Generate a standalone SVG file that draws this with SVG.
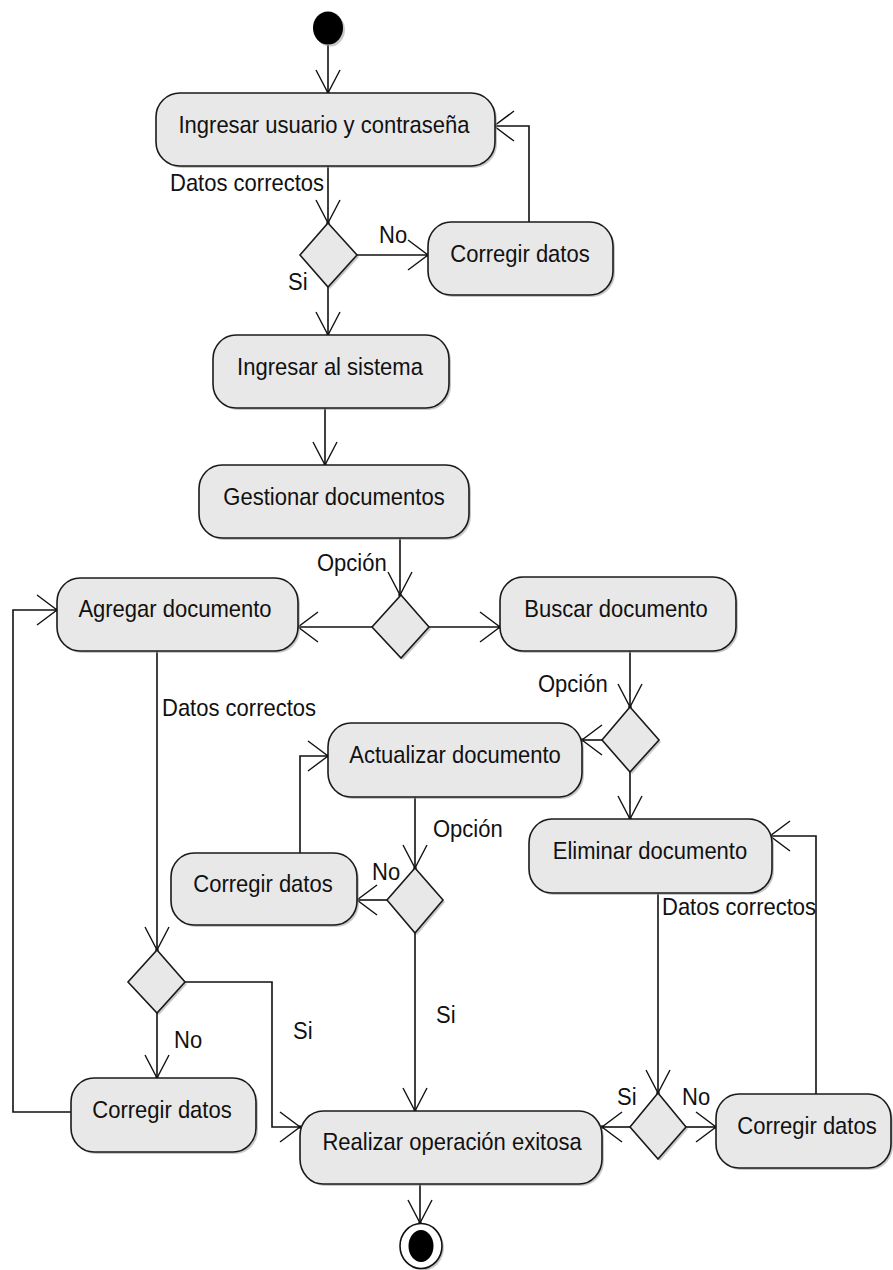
<svg xmlns="http://www.w3.org/2000/svg" width="893" height="1270" viewBox="0 0 893 1270">
<style>
.nd{fill:#e8e8e8;stroke:#1a1a1a;stroke-width:1.6}
.sh{fill:#9a9a9a;opacity:.55;stroke:none}
.t{font-family:"Liberation Sans",Arial,sans-serif;font-size:24px;fill:#111;text-anchor:middle}
.l{font-family:"Liberation Sans",Arial,sans-serif;font-size:24px;fill:#111;text-anchor:start}
.c{fill:none;stroke:#111;stroke-width:1.6}
.cv{marker-end:url(#arrV)}
.ch{marker-end:url(#arrH)}
</style>
<defs>
<marker id="arrV" markerUnits="userSpaceOnUse" viewBox="-26 -14 28 28" refX="0" refY="0" markerWidth="28" markerHeight="28" orient="auto" overflow="visible">
<path d="M-23,-12 L0,0 L-23,12" fill="none" stroke="#111" stroke-width="1.4"/>
<circle cx="0" cy="0" r="1.8" fill="#111"/>
</marker>
<marker id="arrH" markerUnits="userSpaceOnUse" viewBox="-22 -17 24 34" refX="0" refY="0" markerWidth="24" markerHeight="34" orient="auto" overflow="visible">
<path d="M-20,-15 L0,0 L-20,15" fill="none" stroke="#111" stroke-width="1.4"/>
<circle cx="0" cy="0" r="1.8" fill="#111"/>
</marker>
</defs>
<rect width="893" height="1270" fill="#fff"/>

<g id="connectors">
<path class="c cv" d="M328,45 L328,93"/>
<path class="c cv" d="M328,166 L328,223"/>
<path class="c ch" d="M357,255 L428,255"/>
<path class="c ch" d="M529,222 L529,126 L494,126"/>
<path class="c cv" d="M328,287 L328,335"/>
<path class="c cv" d="M325,408 L325,465"/>
<path class="c cv" d="M400,538 L400,595"/>
<path class="c ch" d="M372,627 L298,627"/>
<path class="c ch" d="M429,627 L500,627"/>
<path class="c cv" d="M157,651 L157,950"/>
<path class="c cv" d="M630,651 L630,707"/>
<path class="c ch" d="M602,740 L582,740"/>
<path class="c cv" d="M630,772 L630,819"/>
<path class="c cv" d="M415,797 L415,868"/>
<path class="c ch" d="M387,900 L357,900"/>
<path class="c ch" d="M300,853 L300,756 L328,756"/>
<path class="c cv" d="M415,933 L415,1111"/>
<path class="c ch" d="M185,982 L272,982 L272,1127 L300,1127"/>
<path class="c cv" d="M157,1013 L157,1078"/>
<path class="c ch" d="M71,1112 L13,1112 L13,610 L57,610"/>
<path class="c cv" d="M658,893 L658,1093"/>
<path class="c ch" d="M630,1127 L602,1127"/>
<path class="c ch" d="M686,1127 L716,1127"/>
<path class="c ch" d="M816,1094 L816,836 L770,836"/>
<path class="c cv" d="M420,1184 L420,1223"/>
<text class="l" transform="translate(170 191) scale(0.917 1)">Datos correctos</text>
<text class="l" transform="translate(379 243) scale(0.917 1)">No</text>
<text class="l" transform="translate(288 290) scale(0.917 1)">Si</text>
<text class="l" transform="translate(317 571) scale(0.917 1)">Opción</text>
<text class="l" transform="translate(162 716) scale(0.917 1)">Datos correctos</text>
<text class="l" transform="translate(538 692) scale(0.917 1)">Opción</text>
<text class="l" transform="translate(433 837) scale(0.917 1)">Opción</text>
<text class="l" transform="translate(372 880) scale(0.917 1)">No</text>
<text class="l" transform="translate(662 915) scale(0.917 1)">Datos correctos</text>
<text class="l" transform="translate(436 1023) scale(0.917 1)">Si</text>
<text class="l" transform="translate(293 1039) scale(0.917 1)">Si</text>
<text class="l" transform="translate(174 1048) scale(0.917 1)">No</text>
<text class="l" transform="translate(617 1105) scale(0.917 1)">Si</text>
<text class="l" transform="translate(682 1105) scale(0.917 1)">No</text>
</g>

<g id="start">
<ellipse cx="330" cy="30" rx="15" ry="16.5" class="sh"/>
<ellipse cx="328" cy="28" rx="15" ry="16.5" fill="#000"/>
</g>

<g id="n-login">
<rect class="sh" x="158" y="95" width="339" height="73" rx="24" ry="24"/>
<rect class="nd" x="156" y="93" width="339" height="73" rx="24" ry="24"/>
<text class="t" transform="translate(324 133) scale(0.917 1)">Ingresar usuario y contraseña</text>
</g>

<g id="n-corregir1">
<rect class="sh" x="430" y="224" width="185" height="73" rx="23" ry="24"/>
<rect class="nd" x="428" y="222" width="185" height="73" rx="23" ry="24"/>
<text class="t" transform="translate(520 262) scale(0.917 1)">Corregir datos</text>
</g>

<g id="d-login">
<polygon class="sh" points="330,225 359,257 330,289 302,257"/>
<polygon class="nd" points="328,223 357,255 328,287 300,255"/>
</g>

<g id="n-ingresar">
<rect class="sh" x="215" y="337" width="236" height="73" rx="23" ry="24"/>
<rect class="nd" x="213" y="335" width="236" height="73" rx="23" ry="24"/>
<text class="t" transform="translate(330 375) scale(0.917 1)">Ingresar al sistema</text>
</g>

<g id="n-gestionar">
<rect class="sh" x="201" y="467" width="270" height="73" rx="23" ry="24"/>
<rect class="nd" x="199" y="465" width="270" height="73" rx="23" ry="24"/>
<text class="t" transform="translate(334 505) scale(0.917 1)">Gestionar documentos</text>
</g>

<g id="d-gestionar">
<polygon class="sh" points="403,597 431,629 403,660 374,629"/>
<polygon class="nd" points="401,595 429,627 401,658 372,627"/>
</g>

<g id="n-agregar">
<rect class="sh" x="59" y="580" width="241" height="73" rx="23" ry="24"/>
<rect class="nd" x="57" y="578" width="241" height="73" rx="23" ry="24"/>
<text class="t" transform="translate(175 617) scale(0.917 1)">Agregar documento</text>
</g>

<g id="n-buscar">
<rect class="sh" x="502" y="579" width="236" height="74" rx="23" ry="24"/>
<rect class="nd" x="500" y="577" width="236" height="74" rx="23" ry="24"/>
<text class="t" transform="translate(616 617) scale(0.917 1)">Buscar documento</text>
</g>

<g id="d-buscar">
<polygon class="sh" points="632,709 661,742 632,774 604,742"/>
<polygon class="nd" points="630,707 659,740 630,772 602,740"/>
</g>

<g id="n-actualizar">
<rect class="sh" x="330" y="725" width="254" height="74" rx="23" ry="24"/>
<rect class="nd" x="328" y="723" width="254" height="74" rx="23" ry="24"/>
<text class="t" transform="translate(455 763) scale(0.917 1)">Actualizar documento</text>
</g>

<g id="n-eliminar">
<rect class="sh" x="531" y="821" width="243" height="74" rx="23" ry="24"/>
<rect class="nd" x="529" y="819" width="243" height="74" rx="23" ry="24"/>
<text class="t" transform="translate(650 859) scale(0.917 1)">Eliminar documento</text>
</g>

<g id="d-actualizar">
<polygon class="sh" points="417,870 445,902 417,935 389,902"/>
<polygon class="nd" points="415,868 443,900 415,933 387,900"/>
</g>

<g id="n-corregir2">
<rect class="sh" x="173" y="855" width="186" height="72" rx="23" ry="24"/>
<rect class="nd" x="171" y="853" width="186" height="72" rx="23" ry="24"/>
<text class="t" transform="translate(263 892) scale(0.917 1)">Corregir datos</text>
</g>

<g id="d-agregar">
<polygon class="sh" points="159,952 187,984 159,1015 130,984"/>
<polygon class="nd" points="157,950 185,982 157,1013 128,982"/>
</g>

<g id="n-corregir3">
<rect class="sh" x="73" y="1080" width="185" height="74" rx="23" ry="24"/>
<rect class="nd" x="71" y="1078" width="185" height="74" rx="23" ry="24"/>
<text class="t" transform="translate(162 1118) scale(0.917 1)">Corregir datos</text>
</g>

<g id="n-realizar">
<rect class="sh" x="302" y="1113" width="302" height="73" rx="23" ry="25"/>
<rect class="nd" x="300" y="1111" width="302" height="73" rx="23" ry="25"/>
<text class="t" transform="translate(452 1150) scale(0.917 1)">Realizar operación exitosa</text>
</g>

<g id="d-eliminar">
<polygon class="sh" points="660,1095 688,1129 660,1161 632,1129"/>
<polygon class="nd" points="658,1093 686,1127 658,1159 630,1127"/>
</g>

<g id="n-corregir4">
<rect class="sh" x="718" y="1096" width="175" height="74" rx="23" ry="24"/>
<rect class="nd" x="716" y="1094" width="175" height="74" rx="23" ry="24"/>
<text class="t" transform="translate(807 1134) scale(0.917 1)">Corregir datos</text>
</g>

<g id="end">
<ellipse cx="423" cy="1248" rx="21" ry="22.5" class="sh"/>
<ellipse cx="421" cy="1246" rx="21" ry="22.5" fill="#fff" stroke="#111" stroke-width="1.6"/>
<ellipse cx="421" cy="1246" rx="12.5" ry="16" fill="#000"/>
</g>
</svg>
